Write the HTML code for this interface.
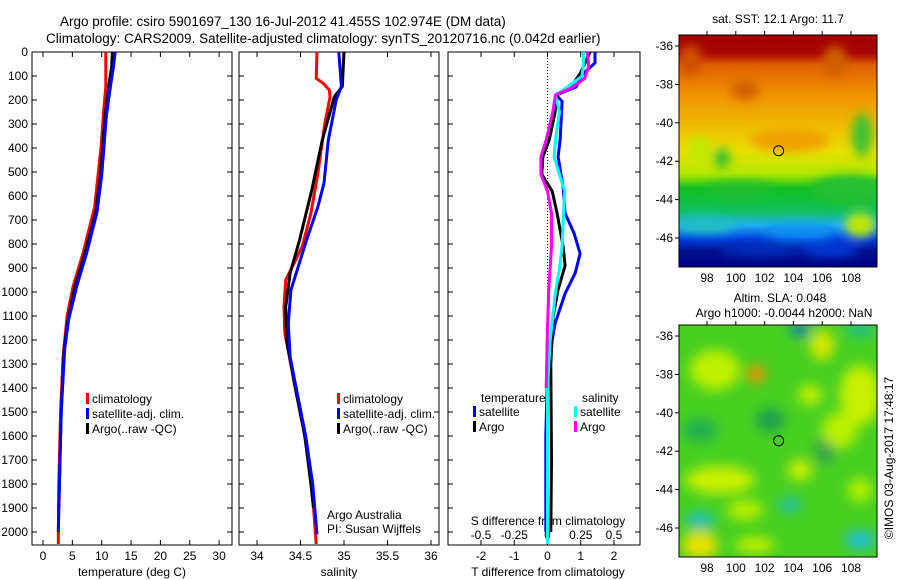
<!DOCTYPE html>
<html><head><meta charset="utf-8">
<style>
body{margin:0;background:#fff;}
svg{display:block;font-family:"Liberation Sans",sans-serif;}
</style></head>
<body>
<svg id="chart" width="900" height="580" viewBox="0 0 900 580" xmlns="http://www.w3.org/2000/svg">
<defs>
<filter id="blur1" x="-20%" y="-20%" width="140%" height="140%"><feGaussianBlur stdDeviation="5"/></filter>
<filter id="blur2" x="-20%" y="-20%" width="140%" height="140%"><feGaussianBlur stdDeviation="6"/></filter>
<clipPath id="clipm1"><rect x="679" y="35" width="198" height="232"/></clipPath>
<clipPath id="clipm2"><rect x="679" y="325" width="198" height="232"/></clipPath>
<linearGradient id="sstgrad" x1="0" y1="0" x2="0" y2="1">
<stop offset="0" stop-color="#a00000"/><stop offset="0.08" stop-color="#a80800"/>
<stop offset="0.13" stop-color="#e06000"/><stop offset="0.25" stop-color="#f09000"/>
<stop offset="0.38" stop-color="#f0b800"/><stop offset="0.5" stop-color="#e8e000"/>
<stop offset="0.6" stop-color="#b0e800"/><stop offset="0.66" stop-color="#10c020"/>
<stop offset="0.76" stop-color="#10c060"/><stop offset="0.82" stop-color="#20b0f0"/>
<stop offset="0.88" stop-color="#0040e0"/><stop offset="0.93" stop-color="#001090"/>
<stop offset="1" stop-color="#000080"/>
</linearGradient>
</defs>
<g id="titles">
<text x="60" y="26" font-size="13.5">Argo profile: csiro 5901697_130 16-Jul-2012 41.455S 102.974E (DM data)</text>
<text x="46" y="43" font-size="13.5">Climatology: CARS2009. Satellite-adjusted climatology: synTS_20120716.nc (0.042d earlier)</text>
</g>
<g id="panels"></g>
<g id="maps"></g>
</svg>
<script>
// ---------- data ----------
const depthTicks = [0,100,200,300,400,500,600,700,800,900,1000,1100,1200,1300,1400,1500,1600,1700,1800,1900,2000];
const tempTicks = [0,5,10,15,20,25,30];
const salTicks = [34,34.5,35,35.5,36];
const salTickLabels = ["34","34.5","35","35.5","36"];
const tdiffTicks = [-2,-1,0,1,2];
const sdiffTicks = [-0.5,-0.25,0,0.25,0.5];
const sdiffTickLabels = ["-0.5","-0.25","0","0.25","0.5"];

const tClimDepth = [0,146,229,395,645,840,980,1100,1275,1500,1800,2050];
const tClimVal   = [10.7,10.7,10.4,9.9,8.8,6.8,5.1,4.1,3.4,3.0,2.7,2.6];
const tSatDepth  = [0,62,125,264,514,667,833,972,1111,1236,1500,1800,2000];
const tSatVal    = [12.3,12.0,11.6,10.8,10.0,9.2,7.5,5.8,4.4,3.7,3.1,2.8,2.6];
const tArgoDepth = [0,62,125,264,514,667,833,972,1111,1236,1500,1800,1900];
const tArgoVal   = [11.8,11.7,11.3,10.6,9.8,9.0,7.2,5.5,4.3,3.6,3.1,2.8,2.7];

const sClimDepth = [0,110,130,158,186,297,505,672,811,950,1062,1170,1400,1600,1800,2050];
const sClimVal   = [34.69,34.68,34.76,34.83,34.84,34.78,34.70,34.62,34.52,34.33,34.31,34.32,34.44,34.55,34.63,34.68];
const sSatDepth  = [0,144,200,367,546,645,783,992,1130,1270,1400,1600,1800,2010];
const sSatVal    = [34.94,34.97,34.91,34.82,34.77,34.70,34.57,34.39,34.36,34.38,34.45,34.56,34.64,34.69];
const sArgoDepth = [0,144,186,367,575,783,922,1062,1200,1400,1600,1800,1900];
const sArgoVal   = [35.00,34.98,34.89,34.75,34.63,34.49,34.38,34.33,34.34,34.44,34.55,34.62,34.65];

const dTSatDepth = [0,46,90,146,179,206,367,437,561,672,756,840,922,1006,1131,1200,1340,1600,2000];
const dTSatVal   = [1.43,1.43,1.07,0.86,0.26,0.44,0.38,0.32,0.47,0.53,0.80,0.98,0.83,0.53,0.23,0.14,0.0,-0.05,-0.05];
const dTArgoDepth = [0,90,146,179,250,367,437,510,580,672,810,890,990,1100,1300,1700,2000];
const dTArgoVal   = [1.28,0.98,0.70,0.29,0.23,0.05,-0.14,-0.17,0.14,0.29,0.47,0.53,0.32,0.17,0.10,0.12,0.10];
const dSSatDepth = [0,50,100,146,179,250,367,437,510,580,672,810,900,1000,1200,1400,2050];
const dSSatVal   = [0.27,0.27,0.26,0.15,0.06,0.09,0.06,0.05,0.09,0.13,0.12,0.11,0.09,0.06,0.02,0.0,0.0];
const dSArgoDepth = [0,60,110,150,179,250,367,437,510,580,672,810,990,1150,1400];
const dSArgoVal   = [0.30,0.31,0.28,0.18,0.06,0.04,-0.01,-0.05,-0.05,0.0,0.03,0.03,0.01,0.0,-0.01];

// ---------- helpers ----------
const NS = "http://www.w3.org/2000/svg";
function mk(tag, attrs, parent, txt){
  const e = document.createElementNS(NS, tag);
  for (const k in attrs) e.setAttribute(k, attrs[k]);
  if (txt !== undefined) e.textContent = txt;
  parent.appendChild(e);
  return e;
}
const Y0 = 52, YS = 0.24, TOP = 52, BOT = 545;
const yD = d => Y0 + YS * d;
const xT = t => 43 + 5.87 * t;
const xS = s => 257 + 87 * (s - 34);
const xdT = t => 547.5 + 33.25 * t;
const xdS = s => 547.5 + 133 * s;
const panels = document.getElementById('panels');

function frame(name, x0, x1){
  const g = mk('g', {}, panels);
  
  
  const r = mk('rect', {x:x0, y:TOP, width:x1-x0, height:BOT-TOP, fill:'none', stroke:'#000', 'stroke-width':1}, g);
  
  
  depthTicks.forEach(d => {
    mk('line', {x1:x0, x2:x0+5, y1:yD(d), y2:yD(d), stroke:'#000'}, g);
    mk('line', {x1:x1, x2:x1-5, y1:yD(d), y2:yD(d), stroke:'#000'}, g);
  });
  return g;
}
function xticks(g, vals, fx, labels, ly){
  vals.forEach((v,i) => {
    const x = fx(v);
    mk('line', {x1:x, x2:x, y1:TOP, y2:TOP+5, stroke:'#000'}, g);
    mk('line', {x1:x, x2:x, y1:BOT, y2:BOT-5, stroke:'#000'}, g);
    const t = mk('text', {x:x, y:ly, 'font-size':12, 'text-anchor':'middle'}, g, labels ? labels[i] : String(v));
    
    
  });
}
function line(g, depths, vals, fx, color, name){
  const pts = depths.map((d,i) => fx(vals[i]).toFixed(1) + ',' + yD(d).toFixed(1)).join(' ');
  const p = mk('polyline', {points:pts, fill:'none', stroke:color, 'stroke-width':3, 'stroke-linejoin':'miter'}, g);
  
  
}
function legend(g, x, y, items){
  items.forEach((it,i) => {
    const yy = y + i*15;
    const m = mk('rect', {x:x, y:yy-10, width:3, height:11, fill:it[1]}, g);
    
    
    const t = mk('text', {x:x+6, y:yy, 'font-size':12}, g, it[0]);
    
    
  });
}

depthTicks.forEach(d => {
  const t = mk('text', {x:28, y:yD(d)+4, 'font-size':12, 'text-anchor':'end'}, panels, String(d));
  
  
});

// panel 1: temperature
const g1 = frame('temperature-panel', 32, 232);
xticks(g1, tempTicks, xT, null, 560);
let t1 = mk('text', {x:132, y:576, 'font-size':12, 'text-anchor':'middle'}, g1, 'temperature (deg C)');


line(g1, tClimDepth, tClimVal, xT, '#ff0000', 'temp-climatology-line');
line(g1, tArgoDepth, tArgoVal, xT, '#000000', 'temp-argo-line');
line(g1, tSatDepth, tSatVal, xT, '#0000ff', 'temp-satellite-line');
legend(g1, 86, 403, [['climatology','#ff0000'],['satellite-adj. clim.','#0000ff'],['Argo(..raw -QC)','#000000']]);

// panel 2: salinity
const g2 = frame('salinity-panel', 239, 439);
xticks(g2, salTicks, xS, salTickLabels, 560);
let t2 = mk('text', {x:339, y:576, 'font-size':12, 'text-anchor':'middle'}, g2, 'salinity');


line(g2, sClimDepth, sClimVal, xS, '#ff0000', 'sal-climatology-line');
line(g2, sArgoDepth, sArgoVal, xS, '#000000', 'sal-argo-line');
line(g2, sSatDepth, sSatVal, xS, '#0000ff', 'sal-satellite-line');
legend(g2, 337, 403, [['climatology','#ff0000'],['satellite-adj. clim.','#0000ff'],['Argo(..raw -QC)','#000000']]);
let c1 = mk('text', {x:327, y:519, 'font-size':12}, g2, 'Argo Australia');


let c2 = mk('text', {x:327, y:533, 'font-size':12}, g2, 'PI: Susan Wijffels');



// panel 3: differences
const g3 = frame('difference-panel', 448, 640);
xticks(g3, tdiffTicks, xdT, null, 560);
let t3 = mk('text', {x:548, y:576, 'font-size':12, 'text-anchor':'middle'}, g3, 'T difference from climatology');


mk('line', {x1:547.5, x2:547.5, y1:TOP, y2:BOT, stroke:'#000', 'stroke-dasharray':'1,2'}, g3);
sdiffTicks.forEach((v,i) => {
  const t = mk('text', {x:xdS(v), y:539, 'font-size':12, 'text-anchor':'middle'}, g3, sdiffTickLabels[i]);
  
  
});
let t4 = mk('text', {x:548, y:525, 'font-size':12, 'text-anchor':'middle'}, g3, 'S difference from climatology');


line(g3, dTSatDepth, dTSatVal, xdT, '#0000ff', 'tdiff-satellite-line');
line(g3, dTArgoDepth, dTArgoVal, xdT, '#000000', 'tdiff-argo-line');
line(g3, dSSatDepth, dSSatVal, xdS, '#00ffff', 'sdiff-satellite-line');
line(g3, dSArgoDepth, dSArgoVal, xdS, '#ff00ff', 'sdiff-argo-line');
let lt = mk('text', {x:481, y:402, 'font-size':12}, g3, 'temperature');


let ls = mk('text', {x:582, y:402, 'font-size':12}, g3, 'salinity');


legend(g3, 473, 416, [['satellite','#0000ff'],['Argo','#000000']]);
legend(g3, 574, 416, [['satellite','#00ffff'],['Argo','#ff00ff']]);

// ---------- maps ----------
const maps = document.getElementById('maps');
const lonTicks = [98,100,102,104,106,108];
const latTicks = [-36,-38,-40,-42,-44,-46];
const argoLon = 102.974, argoLat = -41.455;
const xL = lon => 707 + (lon - 98) * 14.4;

function mapAxes(g, top, latY){
  mk('rect', {x:679, y:top, width:198, height:232, fill:'none', stroke:'#000'}, g);
  lonTicks.forEach(l => {
    mk('line', {x1:xL(l), x2:xL(l), y1:top, y2:top-4, stroke:'#000'}, g);
    const t = mk('text', {x:xL(l), y:top+247, 'font-size':12, 'text-anchor':'middle'}, g, String(l));
    
    
  });
  latTicks.forEach(l => {
    mk('line', {x1:679, x2:675, y1:latY(l), y2:latY(l), stroke:'#000'}, g);
    const t = mk('text', {x:673, y:latY(l)+4, 'font-size':12, 'text-anchor':'end'}, g, String(l));
    
    
  });
  const c = mk('circle', {cx:xL(argoLon), cy:latY(argoLat), r:5, fill:'none', stroke:'#000', 'stroke-width':1}, g);
  
  
}

// SST map
const m1 = mk('g', {}, maps);


const lat1 = la => 46 + (-36 - la) * 19.2;
const b1 = mk('g', {'clip-path':'url(#clipm1)'}, m1);
mk('rect', {x:679, y:35, width:198, height:232, fill:'url(#sstgrad)'}, b1);
const f1 = mk('g', {filter:'url(#blur1)'}, b1);
[[690,60,12,15,'#d05000'],[835,62,12,16,'#d06000'],[745,90,14,10,'#d06000'],[790,140,40,12,'#f0a000'],
 [700,150,12,14,'#c0e800'],[722,158,8,10,'#30c030'],[862,135,10,22,'#40c030'],[850,190,40,15,'#20c030'],
 [740,190,35,8,'#20c030'],[860,225,15,12,'#c0e800'],[705,225,30,8,'#20c0c0'],[800,232,35,7,'#1090f0'],
 [760,250,40,6,'#0030c0'],[830,250,30,6,'#0040e0']].forEach(b=>{
  mk('ellipse', {cx:b[0], cy:b[1], rx:b[2], ry:b[3], fill:b[4]}, f1);
});
mapAxes(m1, 35, lat1);
let mt1 = mk('text', {x:778, y:23, 'font-size':12, 'text-anchor':'middle'}, m1, 'sat. SST: 12.1 Argo: 11.7');



// SLA map
const m2 = mk('g', {}, maps);


const lat2 = la => 336 + (-36 - la) * 19.2;
const b2 = mk('g', {'clip-path':'url(#clipm2)'}, m2);
mk('rect', {x:679, y:325, width:198, height:232, fill:'#48d020'}, b2);
const f2 = mk('g', {filter:'url(#blur2)'}, b2);
[[715,370,25,20,'#c0f000'],[822,345,12,15,'#d8e800'],[756,374,9,9,'#f09000'],[800,330,10,6,'#1070d0'],
 [860,395,20,30,'#c8f000'],[700,430,18,12,'#20b050'],[770,420,15,12,'#20a050'],[825,450,10,14,'#30a050'],
 [720,480,35,14,'#c8f000'],[800,470,12,10,'#d0f000'],[700,520,15,8,'#20c0c0'],[700,545,18,14,'#e8e000'],
 [790,505,12,8,'#20c0a0'],[860,540,15,10,'#20c0d0'],[860,330,15,8,'#20c080'],[755,545,20,8,'#c0f000'],
 [840,430,18,18,'#b8f000'],[810,395,12,10,'#c0f000'],[745,510,18,10,'#b8f000'],[860,490,12,12,'#b0f000']].forEach(b=>{
  mk('ellipse', {cx:b[0], cy:b[1], rx:b[2], ry:b[3], fill:b[4]}, f2);
});
mapAxes(m2, 325, lat2);
let mt2 = mk('text', {x:780, y:302, 'font-size':12, 'text-anchor':'middle'}, m2, 'Altim. SLA: 0.048');


let mt3 = mk('text', {x:784, y:317, 'font-size':12, 'text-anchor':'middle'}, m2, 'Argo h1000: -0.0044 h2000: NaN');


let cp = mk('text', {x:0, y:0, 'font-size':12, 'text-anchor':'middle', transform:'translate(893,458) rotate(-90)'}, maps, '©IMOS 03-Aug-2017 17:48:17');


</script>
</body></html>
